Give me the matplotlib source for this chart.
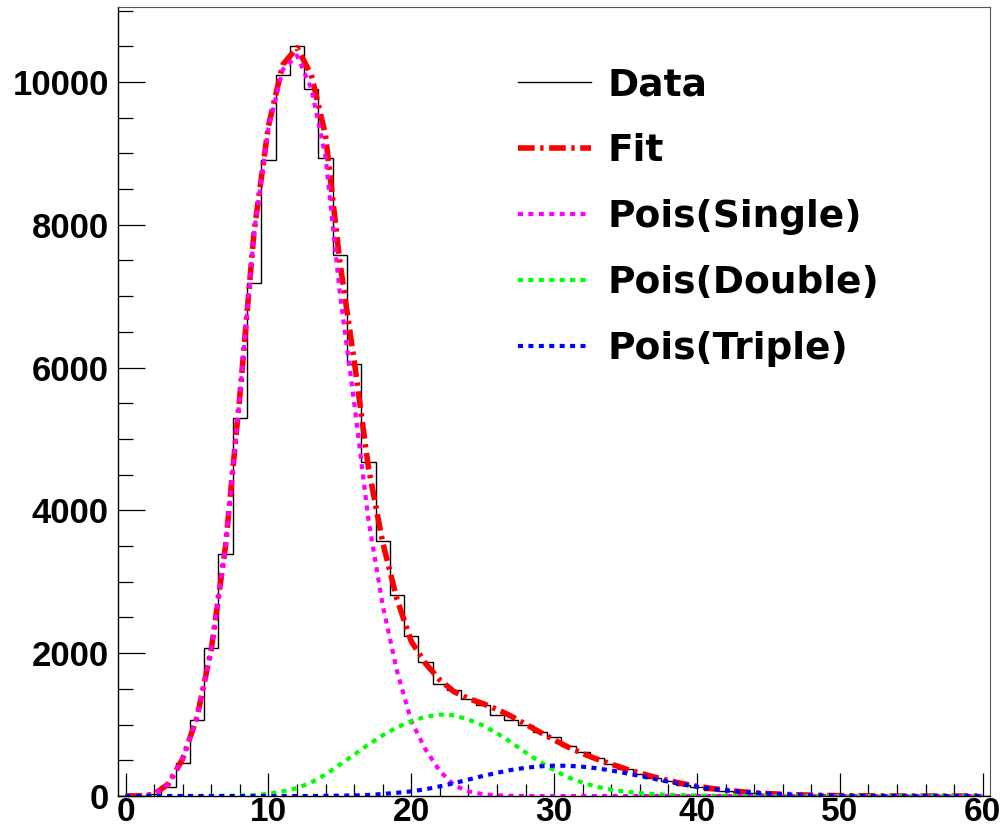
import matplotlib
matplotlib.use("Agg")
import matplotlib.pyplot as plt
from matplotlib.ticker import MultipleLocator

# histogram contents, one bin per integer (bins are 1 wide, centred on 0..60)
bin_edges = [b - 0.5 for b in range(62)]
data_counts = [0, 2, 30, 120, 457, 1064, 2067, 3388, 5297, 7178,
               8913, 10103, 10505, 9907, 8937, 7574, 6044, 4680, 3574, 2814,
               2240, 1870, 1565, 1484, 1355, 1280, 1130, 1070, 1000, 900,
               820, 700, 610, 530, 450, 380, 310, 255, 205, 160,
               120, 90, 68, 50, 36, 26, 18, 12, 9, 6,
               4, 3, 2, 1, 1, 0, 0, 0, 0, 0, 0]

# fitted curves, read at x = 0..60
curve_x = list(range(61))
fit_vals = [0, 2, 25, 170, 520, 1100, 2050, 3502, 5605, 7912,
            9380, 10240, 10480, 10100, 9250, 7480, 6100, 4600, 3550, 2755,
            2165, 1855, 1625, 1460, 1365, 1295, 1213, 1118, 1005, 895,
            785, 683, 595, 516, 445, 380, 320, 266, 217, 173,
            137, 106, 82, 62, 46, 33, 24, 17, 12, 8,
            5, 3, 2, 1, 0, 0, 0, 0, 0, 0, 0]
single_vals = [0, 2, 25, 170, 520, 1100, 2050, 3500, 5600, 7900,
               9350, 10170, 10370, 9910, 8950, 7040, 5510, 3870, 2670, 1750,
               1050, 650, 350, 150, 65, 25, 8, 3, 1, 0,
               0, 0, 0, 0, 0, 0, 0, 0, 0, 0,
               0, 0, 0, 0, 0, 0, 0, 0, 0, 0,
               0, 0, 0, 0, 0, 0, 0, 0, 0, 0, 0]
double_vals = [0, 0, 0, 0, 0, 0, 0, 2, 5, 12,
               30, 65, 110, 190, 300, 440, 580, 720, 850, 960,
               1050, 1110, 1140, 1130, 1070, 990, 880, 750, 610, 480,
               360, 260, 185, 128, 88, 60, 40, 26, 17, 11,
               7, 4, 3, 2, 1, 0, 0, 0, 0, 0,
               0, 0, 0, 0, 0, 0, 0, 0, 0, 0, 0]
triple_vals = [0, 0, 0, 0, 0, 0, 0, 0, 0, 0,
               0, 0, 0, 0, 2, 5, 8, 15, 28, 45,
               65, 95, 135, 180, 230, 280, 325, 365, 395, 415,
               425, 423, 410, 388, 357, 320, 280, 240, 200, 162,
               130, 102, 79, 60, 45, 33, 24, 17, 12, 8,
               5, 3, 2, 1, 0, 0, 0, 0, 0, 0, 0]

x_ticks = [0, 10, 20, 30, 40, 50, 60]
y_ticks = [0, 2000, 4000, 6000, 8000, 10000]

fig = plt.figure(figsize=(10.02, 8.34), dpi=100)
ax = fig.add_axes([118.4 / 1002, 38 / 834, (989.9 - 118.4) / 1002, (796 - 7) / 834])

ax.stairs(data_counts, bin_edges, color='black', linewidth=1.0, label='Data')
ax.plot(curve_x, fit_vals, color='#ff0000', linewidth=4, dashes=(3, 1, 0.6, 1), label='Fit')
ax.plot(curve_x, single_vals, color='#ff00ff', linewidth=3, dashes=(1.2, 1.3), label='Pois(Single)')
ax.plot(curve_x, double_vals, color='#00ff00', linewidth=3, dashes=(1.2, 1.3), label='Pois(Double)')
ax.plot(curve_x, triple_vals, color='#0000ff', linewidth=3, dashes=(1.2, 1.3), label='Pois(Triple)')

ax.set_xlim(-0.5, 60.5)
ax.set_ylim(0, 11050)

# ROOT-like ticks: inward, only on left and bottom
ax.set_xticks(x_ticks)
ax.set_yticks(y_ticks)
ax.xaxis.set_minor_locator(MultipleLocator(2))
ax.yaxis.set_minor_locator(MultipleLocator(500))
ax.tick_params(axis='x', which='major', direction='in', length=16.5, width=0.9, pad=0.5)
ax.tick_params(axis='x', which='minor', direction='in', length=8.6, width=0.9)
ax.tick_params(axis='y', which='major', direction='in', length=19.5, width=0.9, pad=7)
ax.tick_params(axis='y', which='minor', direction='in', length=10.8, width=0.9)
for lab in ax.get_xticklabels() + ax.get_yticklabels():
    lab.set_family('Liberation Sans')
    lab.set_weight('bold')
    lab.set_size(24)
for lab in ax.get_yticklabels():
    lab.set_size(25)

for side in ['left', 'bottom']:
    ax.spines[side].set_linewidth(1.0)
for side in ['top', 'right']:
    ax.spines[side].set_linewidth(0.8)
    ax.spines[side].set_color('#555555')

leg = ax.legend(loc='upper left', bbox_to_anchor=(518 / 1002, 1 - 67 / 834),
                bbox_transform=fig.transFigure, frameon=False,
                prop={'family': 'DejaVu Sans', 'weight': 'bold', 'size': 27},
                handlelength=1.95, handletextpad=0.43, labelspacing=0.80,
                borderpad=0, borderaxespad=0)

fig.savefig('out.png', dpi=100)
